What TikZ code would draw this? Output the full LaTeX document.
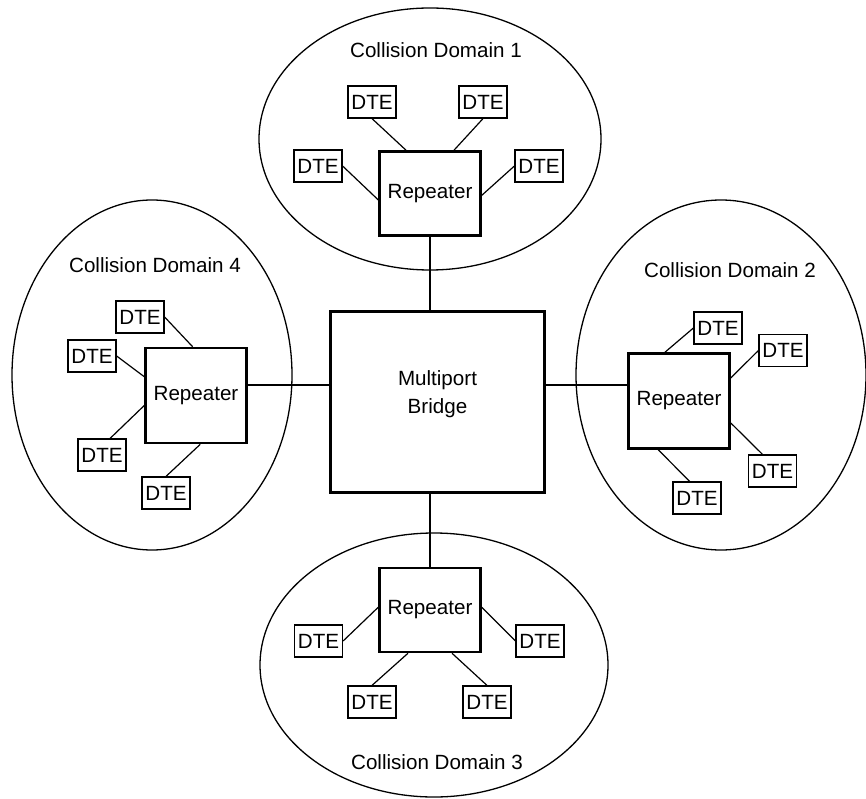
\documentclass[tikz,border=0pt]{standalone}
\usepackage{fontspec}
\setmainfont{Liberation Sans}
\begin{document}
\begin{tikzpicture}[x=1pt,y=-1pt,line width=1.2pt,
  every node/.style={font=\fontsize{20.6}{28}\selectfont},
  dte/.style={draw,rectangle,line width=1.2pt,minimum width=48pt,minimum height=32pt,inner sep=0pt},
  repeater/.style={draw,rectangle,line width=2.6pt,minimum width=101pt,inner sep=0pt},
  domainring/.style={line width=1.3pt}]
\useasboundingbox (0,0) rectangle (866,799);
\draw[domainring] (430,139) ellipse [x radius=171,y radius=131];
\draw[domainring] (721,375) ellipse [x radius=145,y radius=175];
\draw[domainring] (434,665) ellipse [x radius=174,y radius=132];
\draw[domainring] (152,375) ellipse [x radius=140,y radius=175];
\node (t1) at (436,50) {Collision Domain 1};
\node (t2) at (730,270) {Collision Domain 2};
\node (t3) at (437,762) {Collision Domain 3};
\node (t4) at (155,265) {Collision Domain 4};
\node[draw,rectangle,line width=3pt,minimum width=214pt,minimum height=181pt] (bridge) at (437.5,402) {};
\node[align=center] (bridgetext) at (437.5,394) {Multiport\\Bridge};
\node[repeater,minimum height=84pt] (rep1) at (430,193.5) {Repeater};
\node[repeater,minimum height=95pt] (rep2) at (679,401) {Repeater};
\node[repeater,minimum height=84pt] (rep3) at (430,610) {Repeater};
\node[repeater,minimum height=95pt] (rep4) at (196,395.5) {Repeater};
\node[dte] (d1a) at (372,102) {DTE};
\node[dte] (d1b) at (483,102) {DTE};
\node[dte] (d1c) at (318,166) {DTE};
\node[dte] (d1d) at (539,166) {DTE};
\node[dte] (d2a) at (718,328) {DTE};
\node[dte] (d2b) at (783,350.5) {DTE};
\node[dte] (d2c) at (772.5,471) {DTE};
\node[dte] (d2d) at (697,498) {DTE};
\node[dte] (d3a) at (318.5,641) {DTE};
\node[dte] (d3b) at (540,641) {DTE};
\node[dte] (d3c) at (372,702) {DTE};
\node[dte] (d3d) at (487,702) {DTE};
\node[dte] (d4a) at (140,317) {DTE};
\node[dte] (d4b) at (92,356) {DTE};
\node[dte] (d4c) at (102,455) {DTE};
\node[dte] (d4d) at (166,493) {DTE};
\draw (rep1.south) -- (rep1.south |- bridge.north);
\draw (rep3.north) -- (rep3.north |- bridge.south);
\draw ([yshift=17pt]bridge.west) -- ([yshift=17pt]bridge.west -| rep4.east);
\draw ([yshift=17pt]bridge.east) -- ([yshift=17pt]bridge.east -| rep2.west);
\draw (d1a.south) -- (rep1.119);
\draw (d1b.south) -- (rep1.61);
\draw (d1c.east) -- (rep1.187);
\draw (d1d.west) -- (rep1.358);
\draw (d2a.west) -- (rep2.106);
\draw (d2b.west) -- (rep2.24);
\draw (d2c.121) -- (rep2.337);
\draw (d2d.114) -- (rep2.247);
\draw (d3a.east) -- (rep3.177);
\draw (d3b.west) -- (rep3.3);
\draw (d3c.north) -- (rep3.243);
\draw (d3d.north) -- (rep3.297);
\draw (d4a.east) -- (rep4.94);
\draw (d4b.east) -- (rep4.160);
\draw (d4c.64) -- (rep4.191);
\draw (d4d.north) -- (rep4.275);
\end{tikzpicture}
\end{document}
